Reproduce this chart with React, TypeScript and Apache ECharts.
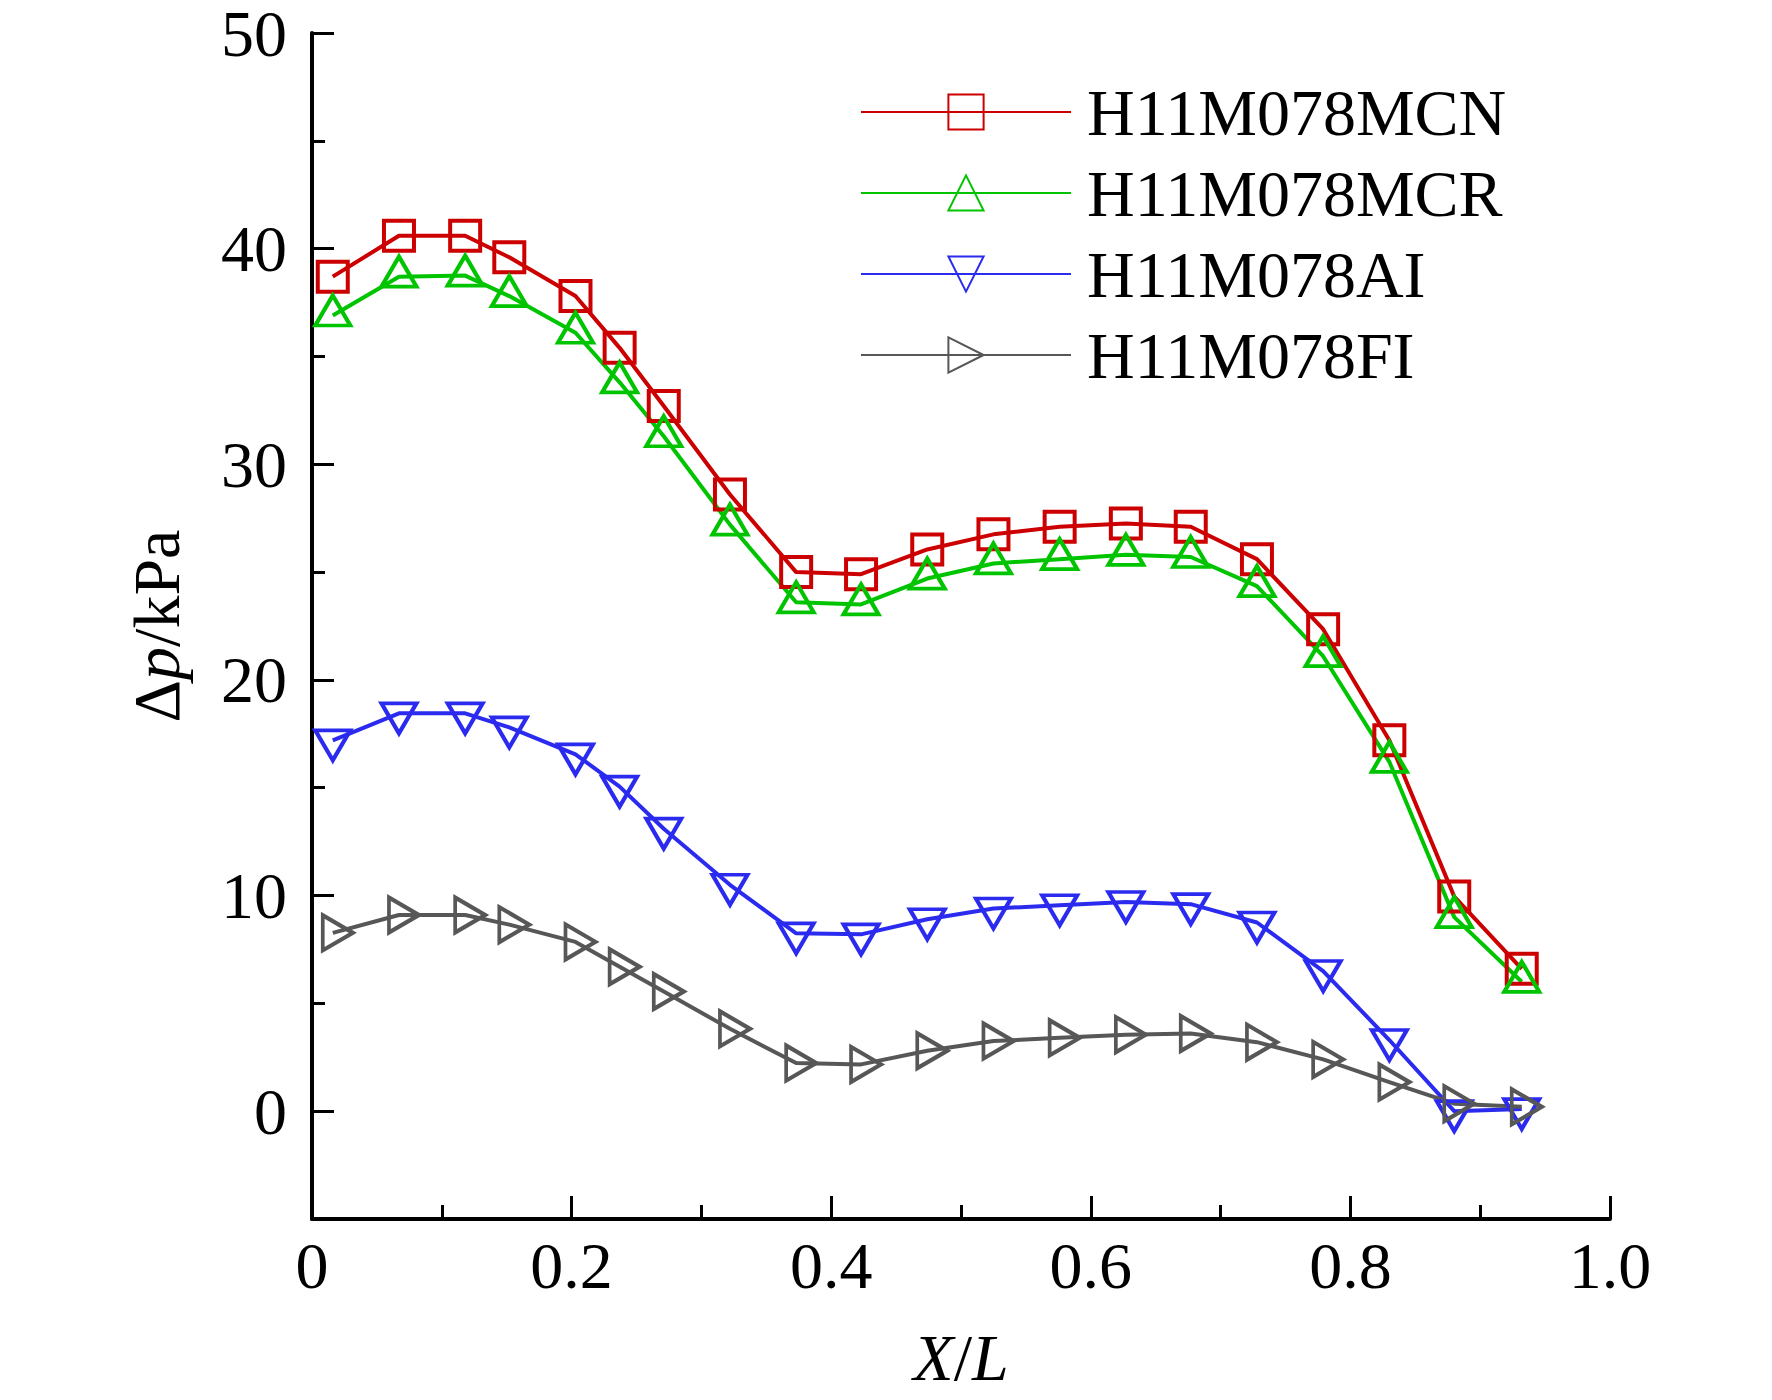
import React, { useEffect, useRef } from "react";
import * as echarts from "echarts";

const xPos = [0.016, 0.067, 0.118, 0.152, 0.203, 0.237, 0.271, 0.322, 0.373, 0.423, 0.474, 0.525, 0.576, 0.627, 0.677, 0.728, 0.779, 0.83, 0.88, 0.932];
const seriesNames = ["H11M078MCN", "H11M078MCR", "H11M078AI", "H11M078FI"];
const mcn = [38.7, 40.6, 40.6, 39.6, 37.8, 35.4, 32.7, 28.6, 25.0, 24.9, 26.05, 26.75, 27.1, 27.25, 27.1, 25.6, 22.35, 17.2, 9.95, 6.6];
const mcr = [36.9, 38.7, 38.75, 37.8, 36.1, 33.8, 31.3, 27.2, 23.6, 23.5, 24.7, 25.4, 25.6, 25.8, 25.7, 24.35, 21.1, 16.2, 9.0, 6.0];
const ai = [17.2, 18.45, 18.45, 17.8, 16.55, 15.05, 13.1, 10.5, 8.25, 8.2, 8.9, 9.4, 9.55, 9.7, 9.6, 8.75, 6.5, 3.3, 0.0, 0.1];
const fi = [8.27, 9.1, 9.1, 8.65, 7.85, 6.7, 5.55, 3.82, 2.23, 2.17, 2.8, 3.25, 3.4, 3.55, 3.6, 3.2, 2.4, 1.35, 0.35, 0.2];
const yMajorTicks = [0, 10, 20, 30, 40, 50];
const yMinorTicks = [5, 15, 25, 35, 45];

const FONT = "'Liberation Serif', 'Times New Roman', serif";

export default function App() {
  const ref = useRef<HTMLDivElement>(null);
  useEffect(() => {
    if (!ref.current) return;
    const chart = echarts.init(ref.current, null, { renderer: "svg" });
    const colors = ["#cc0000", "#00c400", "#2b2bf0", "#575757"];
    const symbols = [
      { symbol: "rect", symbolSize: [30, 30], symbolRotate: 0, symbolOffset: [0, 0] },
      { symbol: "triangle", symbolSize: [35, 30], symbolRotate: 0, symbolOffset: [0, -5] },
      { symbol: "triangle", symbolSize: [35, 30], symbolRotate: 180, symbolOffset: [0, 5] },
      { symbol: "triangle", symbolSize: [35, 30], symbolRotate: -90, symbolOffset: [5, 0] },
    ];
    const datasets = [mcn, mcr, ai, fi];
    const series = datasets.map((vals, i) => ({
      name: seriesNames[i],
      type: "line",
      data: xPos.map((x, j) => [x, vals[j]]),
      ...symbols[i],
      showAllSymbol: true,
      clip: false,
      lineStyle: { color: colors[i], width: 4 },
      itemStyle: { color: "transparent", borderColor: colors[i], borderWidth: 4 },
      emphasis: { disabled: true },
    }));
    chart.setOption({
      animation: false,
      backgroundColor: "#ffffff",
      grid: { left: 312, right: 162, top: 33, bottom: 181, containLabel: false },
      legend: {
        orient: "vertical",
        left: 860,
        top: 79,
        padding: 0,
        itemWidth: 210,
        itemHeight: 44,
        itemGap: 15,
        textStyle: { fontFamily: FONT, fontSize: 66, color: "#000", lineHeight: 66, padding: [0, 0, 0, 11] },
        data: seriesNames,
      },
      xAxis: {
        type: "value",
        min: 0,
        max: 1,
        interval: 0.2,
        name: "{i|X}{n|/}{i|L}",
        nameLocation: "middle",
        nameGap: 105,
        nameTextStyle: {
          rich: {
            i: { fontFamily: FONT, fontSize: 66, fontStyle: "italic", color: "#000" },
            n: { fontFamily: FONT, fontSize: 66, color: "#000" },
          },
        },
        axisLine: { onZero: false, lineStyle: { color: "#000", width: 4 } },
        axisTick: { inside: true, length: 23, lineStyle: { color: "#000", width: 3 } },
        minorTick: { show: true, splitNumber: 2, length: 14, lineStyle: { color: "#000", width: 3 } },
        axisLabel: {
          margin: 20,
          fontFamily: FONT,
          fontSize: 66,
          lineHeight: 52,
          color: "#000",
          formatter: (v: number) => (v === 0 ? "0" : v.toFixed(1)),
        },
        splitLine: { show: false },
        minorSplitLine: { show: false },
      },
      yAxis: [
        {
          type: "value",
          min: -5,
          max: 50,
          position: "left",
          name: "{a|Δ}{b|p}{a|/kPa}",
          nameLocation: "middle",
          nameRotate: 90,
          nameGap: 123,
          nameTextStyle: {
            rich: {
              a: { fontFamily: FONT, fontSize: 66, color: "#000" },
              b: { fontFamily: FONT, fontSize: 66, fontStyle: "italic", color: "#000" },
            },
          },
          axisLine: { onZero: false, lineStyle: { color: "#000", width: 4 } },
          axisTick: { inside: true, length: 22, customValues: yMajorTicks, lineStyle: { color: "#000", width: 3 } },
          axisLabel: { margin: 25, fontFamily: FONT, fontSize: 66, lineHeight: 46, color: "#000", customValues: yMajorTicks },
          splitLine: { show: false },
        },
        {
          type: "value",
          min: -5,
          max: 50,
          position: "left",
          offset: 0,
          axisLine: { show: false, onZero: false },
          axisTick: { inside: true, length: 13, customValues: yMinorTicks, lineStyle: { color: "#000", width: 3 } },
          axisLabel: { show: false },
          splitLine: { show: false },
        },
      ],
      series,
    });
    return () => chart.dispose();
  }, []);
  return <div ref={ref} style={{ position: "absolute", left: 0, top: 0, width: 1772, height: 1400 }} />;
}
